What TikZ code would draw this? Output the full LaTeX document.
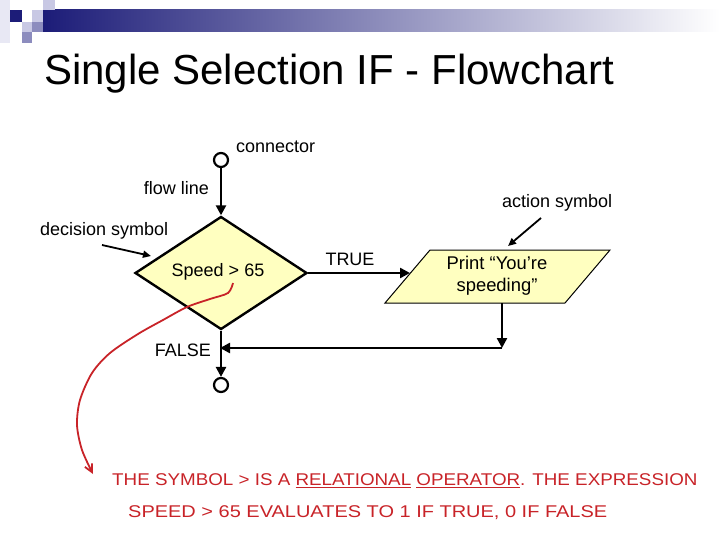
\documentclass[tikz,border=0pt]{standalone}
\usepackage{fontspec}
\setmainfont{Liberation Sans}
\usepackage{graphicx}
\usetikzlibrary{arrows.meta,positioning,calc,shapes.geometric}
\definecolor{navy}{RGB}{28,28,120}
\definecolor{lav}{RGB}{200,200,228}
\definecolor{midblue}{RGB}{140,140,190}
\definecolor{pale}{RGB}{232,232,244}
\definecolor{pad}{RGB}{255,255,192}
\definecolor{pen}{RGB}{200,35,40}
\begin{document}
\begin{tikzpicture}[x=1pt,y=-1pt,
  lbl/.style={font=\fontsize{18}{21}\selectfont,inner sep=0pt},
  flow/.style={line width=2.4pt,-{Triangle[width=10pt,length=10pt]}},
  pointer/.style={line width=1.8pt,-{Triangle[width=7pt,length=8pt]}},
  conn/.style={circle,draw,line width=2.2pt,minimum size=14pt,inner sep=0pt,fill=white},
  hand/.style={pen,font=\fontsize{17}{19}\selectfont,inner sep=0pt,anchor=west}]
\useasboundingbox (0,0) rectangle (720,540);
% header bar and squares
\fill[pale] (0,0) rectangle (10,43);
\shade[left color=navy,right color=white] (43,10) rectangle (720,32);
\fill[lav] (43,0) rectangle (55,10);
\fill[navy] (10,10) rectangle (22,22);
\fill[lav] (32,10) rectangle (43,22);
\fill[lav] (22,22) rectangle (32,32);
\fill[midblue] (32,22) rectangle (43,32);
\fill[midblue] (22,32) rectangle (32,43);
% title
\node[anchor=base west,inner sep=0pt,font=\fontsize{42}{46}\selectfont] (title) at (44,85) {Single Selection IF - Flowchart};
% flowchart
\node[conn] (start) at (221,160) {};
\node[diamond,draw,line width=2.4pt,fill=pad,aspect=1.52,minimum width=172pt,minimum height=113pt,inner sep=0pt] (decide) at (221,273) {};
\node[lbl] (cond) at (218,272) {Speed > 65};
\draw[line width=1pt,fill=pad] (430,250) -- (610,250) -- (565,303) -- (385,303) -- cycle;
\node[lbl,align=center,font=\fontsize{18.4}{22}\selectfont] (print) at (497,276) {Print “You’re\\speeding”};
\node[conn] (stop) at (221,385) {};
\coordinate (slant) at (410,273);
\coordinate (top) at (502,303);
\coordinate (drop) at (502,348);
\coordinate (join) at (221,348);
\draw[flow] (start) -- (decide.north);
\draw[flow] (decide.east) -- (slant);
\draw[flow] (top) -- (drop);
\draw[flow] (drop) -- ([xshift=-1pt]join);
\draw[flow] (decide.south) -- (stop);
% labels
\node[lbl,anchor=west] (connlbl) at (236,147) {connector};
\node[lbl,anchor=east] (flowlbl) at (209,188) {flow line};
\node[lbl,anchor=west] (actlbl) at (502,203) {action symbol};
\node[lbl,anchor=west] (declbl) at (40,231) {decision symbol};
\node[lbl] (truelbl) at (350,259) {TRUE};
\node[lbl,anchor=east] (falselbl) at (211,350) {FALSE};
\coordinate (acttail) at (541,218);
\coordinate (acthead) at (508,246);
\coordinate (dectail) at (102,245);
\coordinate (dechead) at (151,256);
\draw[pointer] (acttail) -- (acthead);
\draw[pointer] (dectail) -- (dechead);
% red pen note
\draw[pen,line width=1.8pt,-{Straight Barb[length=8pt,width=8pt]}] plot[smooth] coordinates
  {(233,283) (228,293) (210,299) (187,307) (163,320) (138,334) (110,353) (92,373) (80,400) (77,425) (82,450) (93,474)};
\node[hand] (note1) at (112,481) {\scalebox{1.106}[1]{THE SYMBOL > IS A \underline{RELATIONAL} \underline{OPERATOR}. THE EXPRESSION}};
\node[hand] (note2) at (128,513) {\scalebox{1.175}[1]{SPEED > 65 EVALUATES TO 1 IF TRUE, 0 IF FALSE}};
\end{tikzpicture}
\end{document}
